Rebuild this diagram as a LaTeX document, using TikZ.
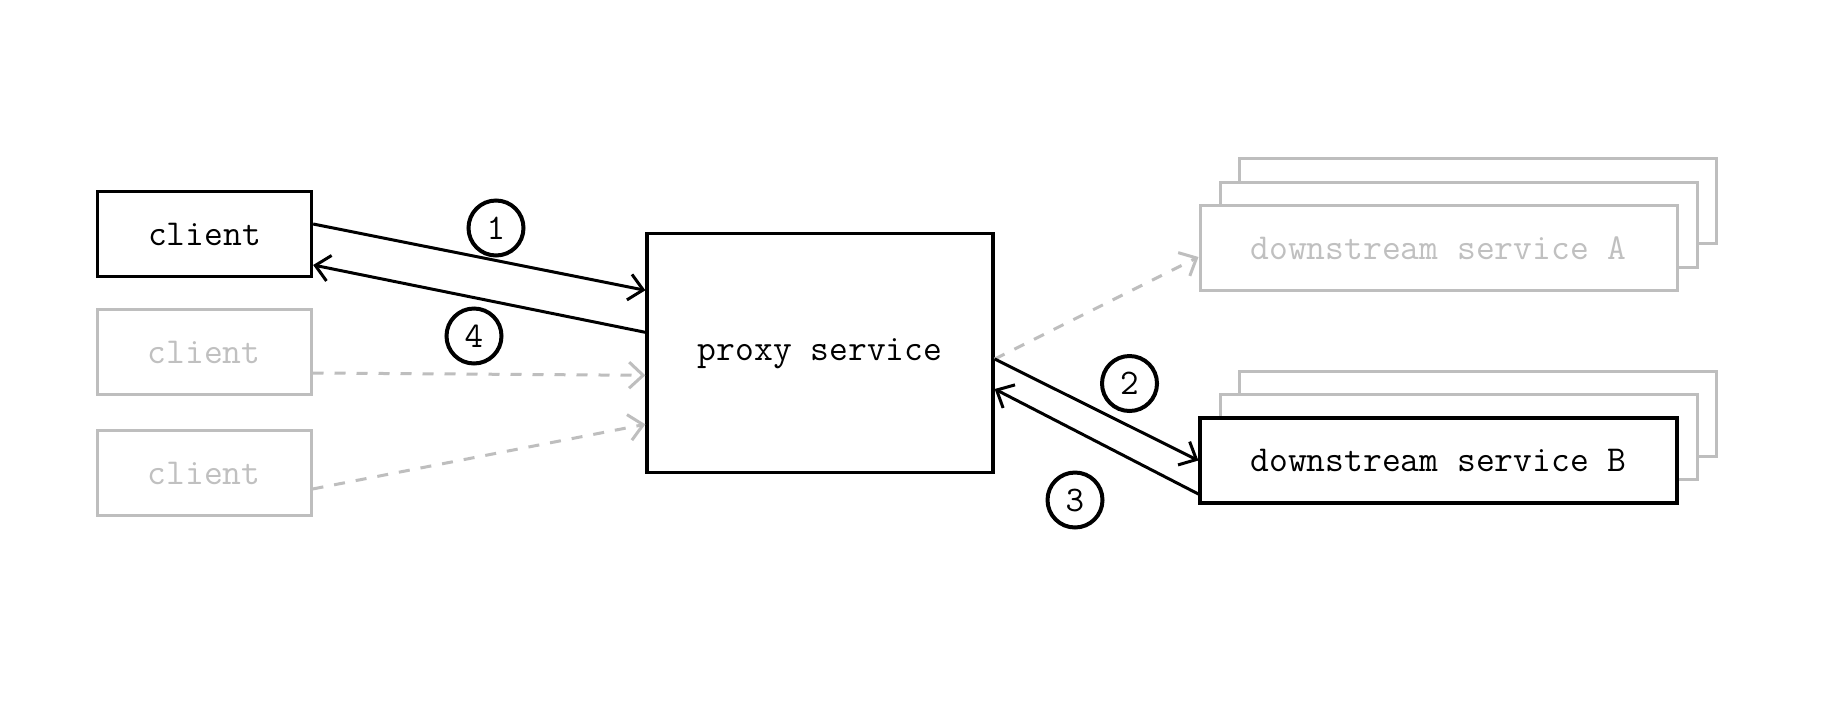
\documentclass[tikz,border=0pt]{standalone}
\usepackage{fontspec}
\usetikzlibrary{arrows.meta}
\definecolor{lightg}{RGB}{190,190,190}
\definecolor{lighttext}{RGB}{192,192,192}
\tikzset{
  box/.style={draw=black, line width=3.3pt, fill=white, rectangle, inner sep=0pt,
    font=\ttfamily\fontsize{36.5}{40}\selectfont, text=black},
  ghost/.style={box, draw=lightg, line width=3pt, text=lighttext},
  clientbox/.style={minimum width=214pt, minimum height=85pt},
  dsbox/.style={minimum width=477pt, minimum height=85pt},
  num/.style={draw=black, circle, line width=4pt, minimum size=55pt, inner sep=0pt,
    font=\ttfamily\fontsize{36}{40}\selectfont},
  solidarrow/.style={line width=3pt, -{Straight Barb[length=14pt,width=26pt,line width=3pt]}},
  dasharrow/.style={draw=lightg, line width=3pt, dash pattern=on 11pt off 11pt,
    -{Straight Barb[length=14pt,width=26pt,line width=3pt]}}
}
\begin{document}
\begin{tikzpicture}[x=1pt,y=-1pt]
\useasboundingbox (0,0) rectangle (1822,716);
\fill[white] (0,0) rectangle (1822,716);
% clients
\node[box, clientbox] (c1) at (204.5,234) {client};
\node[ghost, clientbox] (c2) at (204,352) {client};
\node[ghost, clientbox] (c3) at (204,473) {client};
% proxy
\node[box, minimum width=346pt, minimum height=239pt] (proxy) at (820,353.3) {proxy service};
% downstream A stack
\node[ghost, dsbox] (a3) at (1478,201) {};
\node[ghost, dsbox] (a2) at (1458.5,224.5) {};
\node[ghost, dsbox] (a1) at (1438.5,248) {downstream service A};
% downstream B stack
\node[ghost, dsbox] (b3) at (1478,413.5) {};
\node[ghost, dsbox] (b2) at (1458.5,437) {};
\node[box, dsbox] (b1) at (1438.5,460.5) {downstream service B};
% connectors
\draw[solidarrow] ([yshift=10pt]c1.east) -- ([yshift=63pt]proxy.west);
\draw[solidarrow] ([yshift=21pt]proxy.west) -- ([yshift=-31pt]c1.east);
\draw[dasharrow] ([yshift=-21pt]c2.east) -- ([yshift=-22pt]proxy.west);
\draw[dasharrow] ([yshift=-16pt]c3.east) -- ([yshift=-71pt]proxy.west);
\draw[dasharrow] ([yshift=-5.7pt]proxy.east) -- ([yshift=-9pt]a1.west);
\draw[solidarrow] ([yshift=-5.7pt]proxy.east) -- (b1.west);
\draw[solidarrow] ([yshift=-33.5pt]b1.west) -- ([yshift=-35.7pt]proxy.east);
% step numbers
\node[num] (n1) at (496,228) {1};
\node[num] (n4) at (474,336) {4};
\node[num] (n2) at (1129.5,383.5) {2};
\node[num] (n3) at (1075,500) {3};
\end{tikzpicture}
\end{document}
